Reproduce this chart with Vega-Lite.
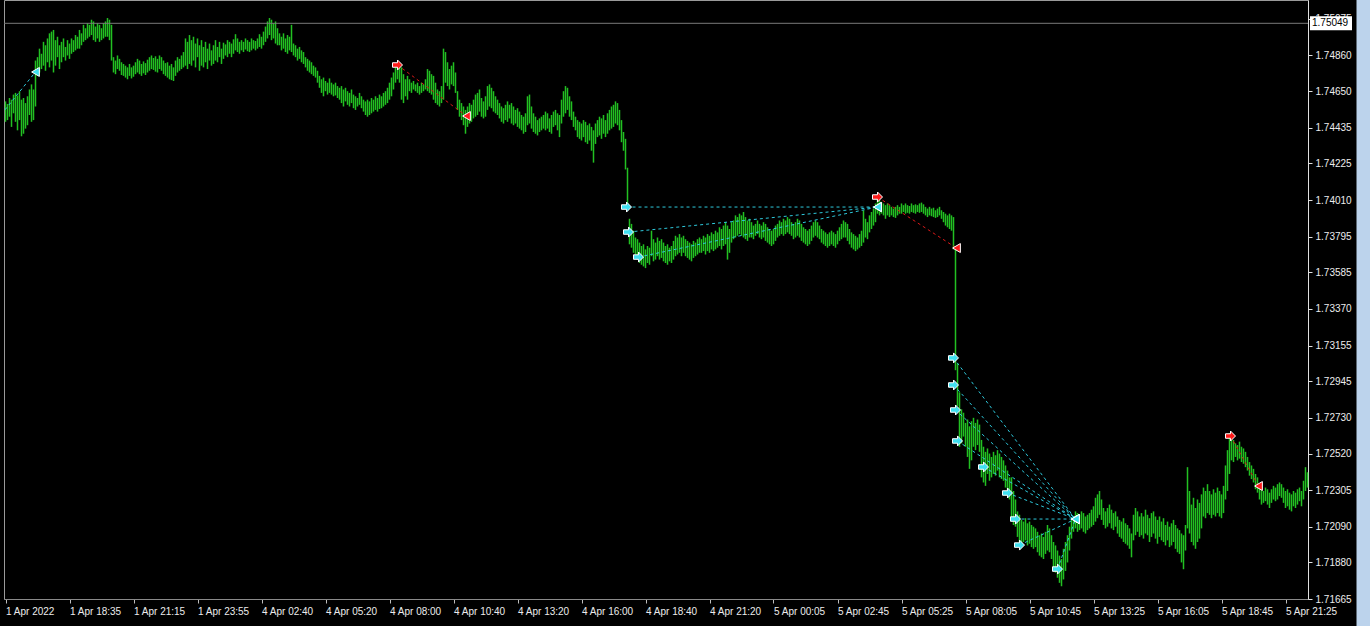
{
"$schema":"https://vega.github.io/schema/vega-lite/v6.json",
"width":1304,"height":599,
"autosize":{"type":"none"},
"padding":{"left":4,"top":0,"right":62,"bottom":27},
"background":"#000000",
"config":{"view":{"stroke":"#9a9a9a","strokeWidth":1},"font":"Liberation Sans","axis":{"labelOverlap":false,"labelFlush":false,"labelBound":false,"grid":false,"labelFont":"Liberation Sans","labelFontSize":10,"labelColor":"#ececec"}},
"title":{"text":"GBPUSD,M5  1.75049 1.75049 1.75046 1.75049","anchor":"start","orient":"top","offset":-5,"baseline":"bottom","color":"#9a9a9a","fontSize":10,"fontWeight":"normal","font":"Liberation Sans","dx":16},
"datasets":{
"bars":[
{"i":0,"h":1.7459,"l":1.7447},{"i":1,"h":1.74575,"l":1.7448},{"i":2,"h":1.7461,"l":1.745},{"i":3,"h":1.746,"l":1.7444},{"i":4,"h":1.7463,"l":1.7452},{"i":5,"h":1.7464,"l":1.7447},{"i":6,"h":1.74625,"l":1.7442},{"i":7,"h":1.7465,"l":1.7448},{"i":8,"h":1.746,"l":1.74385},{"i":9,"h":1.7461,"l":1.744},
{"i":10,"h":1.7458,"l":1.7443},{"i":11,"h":1.7462,"l":1.7445},{"i":12,"h":1.7466,"l":1.7451},{"i":13,"h":1.7469,"l":1.7447},{"i":14,"h":1.7466,"l":1.7448},{"i":15,"h":1.7483,"l":1.7456},{"i":16,"h":1.7485,"l":1.7474},{"i":17,"h":1.749,"l":1.7476},{"i":18,"h":1.7487,"l":1.7478},{"i":19,"h":1.7494,"l":1.748},
{"i":20,"h":1.7492,"l":1.7477},{"i":21,"h":1.7496,"l":1.7482},{"i":22,"h":1.7499,"l":1.7479},{"i":23,"h":1.75,"l":1.7483},{"i":24,"h":1.7501,"l":1.7476},{"i":25,"h":1.7495,"l":1.748},{"i":26,"h":1.7497,"l":1.7485},{"i":27,"h":1.7492,"l":1.7478},{"i":28,"h":1.7494,"l":1.7482},{"i":29,"h":1.7496,"l":1.7485},
{"i":30,"h":1.7491,"l":1.7483},{"i":31,"h":1.7495,"l":1.7486},{"i":32,"h":1.7493,"l":1.7484},{"i":33,"h":1.7496,"l":1.7487},{"i":34,"h":1.7495,"l":1.7488},{"i":35,"h":1.7498,"l":1.7489},{"i":36,"h":1.7497,"l":1.749},{"i":37,"h":1.7501,"l":1.749},{"i":38,"h":1.7499,"l":1.7492},{"i":39,"h":1.7504,"l":1.7494},
{"i":40,"h":1.7502,"l":1.7495},{"i":41,"h":1.7505,"l":1.7496},{"i":42,"h":1.7504,"l":1.7497},{"i":43,"h":1.7507,"l":1.7498},{"i":44,"h":1.7506,"l":1.7495},{"i":45,"h":1.7503,"l":1.7494},{"i":46,"h":1.7505,"l":1.7496},{"i":47,"h":1.7504,"l":1.7494},{"i":48,"h":1.7502,"l":1.7495},{"i":49,"h":1.7505,"l":1.7496},
{"i":50,"h":1.7506,"l":1.7497},{"i":51,"h":1.7508,"l":1.7497},{"i":52,"h":1.7507,"l":1.7495},{"i":53,"h":1.7504,"l":1.7483},{"i":54,"h":1.7485,"l":1.7476},{"i":55,"h":1.7483,"l":1.7475},{"i":56,"h":1.7486,"l":1.7478},{"i":57,"h":1.7484,"l":1.7477},{"i":58,"h":1.7482,"l":1.74745},{"i":59,"h":1.7481,"l":1.7474},
{"i":60,"h":1.748,"l":1.7473},{"i":61,"h":1.7479,"l":1.7472},{"i":62,"h":1.7481,"l":1.7474},{"i":63,"h":1.7479,"l":1.74725},{"i":64,"h":1.748,"l":1.74735},{"i":65,"h":1.7482,"l":1.7475},{"i":66,"h":1.7484,"l":1.7476},{"i":67,"h":1.7483,"l":1.7475},{"i":68,"h":1.7481,"l":1.7474},{"i":69,"h":1.74825,"l":1.74755},
{"i":70,"h":1.74815,"l":1.74745},{"i":71,"h":1.74835,"l":1.7476},{"i":72,"h":1.7485,"l":1.7477},{"i":73,"h":1.7486,"l":1.7478},{"i":74,"h":1.74845,"l":1.74775},{"i":75,"h":1.74855,"l":1.74765},{"i":76,"h":1.7484,"l":1.7476},{"i":77,"h":1.7486,"l":1.7478},{"i":78,"h":1.7485,"l":1.7477},{"i":79,"h":1.7483,"l":1.7475},
{"i":80,"h":1.74815,"l":1.7474},{"i":81,"h":1.7482,"l":1.7473},{"i":82,"h":1.748,"l":1.7472},{"i":83,"h":1.7481,"l":1.74715},{"i":84,"h":1.7479,"l":1.7471},{"i":85,"h":1.7483,"l":1.7474},{"i":86,"h":1.7485,"l":1.7476},{"i":87,"h":1.7484,"l":1.7477},{"i":88,"h":1.7486,"l":1.7478},{"i":89,"h":1.7488,"l":1.7479},
{"i":90,"h":1.7496,"l":1.748},{"i":91,"h":1.7494,"l":1.7478},{"i":92,"h":1.7498,"l":1.7481},{"i":93,"h":1.7495,"l":1.748},{"i":94,"h":1.7497,"l":1.7483},{"i":95,"h":1.7493,"l":1.7479},{"i":96,"h":1.7496,"l":1.7485},{"i":97,"h":1.7492,"l":1.7477},{"i":98,"h":1.7495,"l":1.748},{"i":99,"h":1.7491,"l":1.7479},
{"i":100,"h":1.7494,"l":1.7482},{"i":101,"h":1.749,"l":1.7478},{"i":102,"h":1.7493,"l":1.7483},{"i":103,"h":1.7489,"l":1.748},{"i":104,"h":1.7492,"l":1.7481},{"i":105,"h":1.7495,"l":1.7483},{"i":106,"h":1.7491,"l":1.7482},{"i":107,"h":1.7494,"l":1.7485},{"i":108,"h":1.749,"l":1.7481},{"i":109,"h":1.74935,"l":1.7484},
{"i":110,"h":1.74925,"l":1.7486},{"i":111,"h":1.7495,"l":1.7485},{"i":112,"h":1.7494,"l":1.7487},{"i":113,"h":1.7493,"l":1.7485},{"i":114,"h":1.74955,"l":1.7487},{"i":115,"h":1.74985,"l":1.7489},{"i":116,"h":1.7496,"l":1.7488},{"i":117,"h":1.7494,"l":1.7487},{"i":118,"h":1.7495,"l":1.7489},{"i":119,"h":1.7494,"l":1.7488},
{"i":120,"h":1.7496,"l":1.74895},{"i":121,"h":1.7495,"l":1.74885},{"i":122,"h":1.7494,"l":1.7488},{"i":123,"h":1.7496,"l":1.7489},{"i":124,"h":1.7495,"l":1.749},{"i":125,"h":1.74945,"l":1.7489},{"i":126,"h":1.7496,"l":1.749},{"i":127,"h":1.74985,"l":1.7491},{"i":128,"h":1.7497,"l":1.749},{"i":129,"h":1.75,"l":1.7492},
{"i":130,"h":1.7503,"l":1.7494},{"i":131,"h":1.7506,"l":1.7496},{"i":132,"h":1.7508,"l":1.7498},{"i":133,"h":1.7507,"l":1.7495},{"i":134,"h":1.7505,"l":1.7496},{"i":135,"h":1.7506,"l":1.7493},{"i":136,"h":1.7502,"l":1.7492},{"i":137,"h":1.7499,"l":1.7492},{"i":138,"h":1.7497,"l":1.7489},{"i":139,"h":1.7499,"l":1.749},
{"i":140,"h":1.7496,"l":1.7488},{"i":141,"h":1.7498,"l":1.7487},{"i":142,"h":1.7497,"l":1.7489},{"i":143,"h":1.7504,"l":1.7488},{"i":144,"h":1.7493,"l":1.7486},{"i":145,"h":1.7492,"l":1.7485},{"i":146,"h":1.749,"l":1.7483},{"i":147,"h":1.7491,"l":1.7484},{"i":148,"h":1.7489,"l":1.7482},{"i":149,"h":1.7488,"l":1.7481},
{"i":150,"h":1.7485,"l":1.7479},{"i":151,"h":1.7484,"l":1.7477},{"i":152,"h":1.7483,"l":1.7476},{"i":153,"h":1.7482,"l":1.7475},{"i":154,"h":1.748,"l":1.7474},{"i":155,"h":1.7479,"l":1.7473},{"i":156,"h":1.7477,"l":1.747},{"i":157,"h":1.7474,"l":1.7467},{"i":158,"h":1.7472,"l":1.7464},{"i":159,"h":1.7473,"l":1.7462},
{"i":160,"h":1.7471,"l":1.7465},{"i":161,"h":1.747,"l":1.7463},{"i":162,"h":1.74725,"l":1.7464},{"i":163,"h":1.747,"l":1.7463},{"i":164,"h":1.7469,"l":1.7462},{"i":165,"h":1.747,"l":1.74625},{"i":166,"h":1.7468,"l":1.7461},{"i":167,"h":1.7467,"l":1.746},{"i":168,"h":1.7468,"l":1.7458},{"i":169,"h":1.7466,"l":1.7456},
{"i":170,"h":1.7467,"l":1.7459},{"i":171,"h":1.7465,"l":1.7457},{"i":172,"h":1.7464,"l":1.7456},{"i":173,"h":1.7466,"l":1.7458},{"i":174,"h":1.7463,"l":1.7455},{"i":175,"h":1.7462,"l":1.7454},{"i":176,"h":1.7461,"l":1.7456},{"i":177,"h":1.7464,"l":1.7457},{"i":178,"h":1.7462,"l":1.7455},{"i":179,"h":1.746,"l":1.7453},
{"i":180,"h":1.7459,"l":1.7451},{"i":181,"h":1.746,"l":1.745},{"i":182,"h":1.7459,"l":1.7451},{"i":183,"h":1.7461,"l":1.7452},{"i":184,"h":1.746,"l":1.7453},{"i":185,"h":1.7462,"l":1.7454},{"i":186,"h":1.7461,"l":1.7453},{"i":187,"h":1.7463,"l":1.74545},{"i":188,"h":1.7462,"l":1.7455},{"i":189,"h":1.7464,"l":1.7456},
{"i":190,"h":1.7465,"l":1.7457},{"i":191,"h":1.7467,"l":1.7458},{"i":192,"h":1.747,"l":1.746},{"i":193,"h":1.7473,"l":1.7462},{"i":194,"h":1.7476,"l":1.7466},{"i":195,"h":1.7479,"l":1.747},{"i":196,"h":1.7481,"l":1.7472},{"i":197,"h":1.748,"l":1.747},{"i":198,"h":1.7479,"l":1.746},{"i":199,"h":1.7475,"l":1.7458},
{"i":200,"h":1.7472,"l":1.7462},{"i":201,"h":1.7474,"l":1.746},{"i":202,"h":1.7472,"l":1.7465},{"i":203,"h":1.747,"l":1.7464},{"i":204,"h":1.7471,"l":1.7466},{"i":205,"h":1.7469,"l":1.7465},{"i":206,"h":1.747,"l":1.7464},{"i":207,"h":1.7468,"l":1.7463},{"i":208,"h":1.747,"l":1.7464},{"i":209,"h":1.7469,"l":1.7465},
{"i":210,"h":1.7472,"l":1.7466},{"i":211,"h":1.7478,"l":1.7465},{"i":212,"h":1.7477,"l":1.7464},{"i":213,"h":1.7475,"l":1.7463},{"i":214,"h":1.7474,"l":1.746},{"i":215,"h":1.747,"l":1.7458},{"i":216,"h":1.7466,"l":1.7457},{"i":217,"h":1.7465,"l":1.7456},{"i":218,"h":1.7468,"l":1.7458},{"i":219,"h":1.749,"l":1.746},
{"i":220,"h":1.7488,"l":1.747},{"i":221,"h":1.7482,"l":1.7468},{"i":222,"h":1.7478,"l":1.7466},{"i":223,"h":1.748,"l":1.7469},{"i":224,"h":1.7482,"l":1.7468},{"i":225,"h":1.7476,"l":1.7464},{"i":226,"h":1.7465,"l":1.7454},{"i":227,"h":1.746,"l":1.745},{"i":228,"h":1.7458,"l":1.7448},{"i":229,"h":1.7456,"l":1.7445},
{"i":230,"h":1.7454,"l":1.744},{"i":231,"h":1.7456,"l":1.7444},{"i":232,"h":1.7458,"l":1.7446},{"i":233,"h":1.7457,"l":1.7447},{"i":234,"h":1.746,"l":1.7449},{"i":235,"h":1.7463,"l":1.745},{"i":236,"h":1.7464,"l":1.7451},{"i":237,"h":1.7466,"l":1.7453},{"i":238,"h":1.7461,"l":1.745},{"i":239,"h":1.7459,"l":1.7449},
{"i":240,"h":1.7462,"l":1.745},{"i":241,"h":1.7468,"l":1.7454},{"i":242,"h":1.7469,"l":1.7456},{"i":243,"h":1.7467,"l":1.7455},{"i":244,"h":1.7465,"l":1.7453},{"i":245,"h":1.7462,"l":1.7452},{"i":246,"h":1.746,"l":1.7451},{"i":247,"h":1.7458,"l":1.7449},{"i":248,"h":1.7456,"l":1.7447},{"i":249,"h":1.7455,"l":1.7446},
{"i":250,"h":1.7457,"l":1.7448},{"i":251,"h":1.7459,"l":1.7447},{"i":252,"h":1.7457,"l":1.7449},{"i":253,"h":1.7458,"l":1.7446},{"i":254,"h":1.7456,"l":1.7445},{"i":255,"h":1.7454,"l":1.7446},{"i":256,"h":1.7455,"l":1.7444},{"i":257,"h":1.7453,"l":1.7443},{"i":258,"h":1.7451,"l":1.7442},{"i":259,"h":1.745,"l":1.744},
{"i":260,"h":1.7452,"l":1.7441},{"i":261,"h":1.7462,"l":1.7445},{"i":262,"h":1.7463,"l":1.7446},{"i":263,"h":1.7456,"l":1.7443},{"i":264,"h":1.7452,"l":1.7441},{"i":265,"h":1.745,"l":1.744},{"i":266,"h":1.7448,"l":1.7439},{"i":267,"h":1.7449,"l":1.7441},{"i":268,"h":1.745,"l":1.7442},{"i":269,"h":1.7451,"l":1.7443},
{"i":270,"h":1.7453,"l":1.7442},{"i":271,"h":1.7452,"l":1.7443},{"i":272,"h":1.7449,"l":1.7441},{"i":273,"h":1.7451,"l":1.744},{"i":274,"h":1.7453,"l":1.7444},{"i":275,"h":1.7454,"l":1.7445},{"i":276,"h":1.7452,"l":1.7442},{"i":277,"h":1.7451,"l":1.7438},{"i":278,"h":1.746,"l":1.7446},{"i":279,"h":1.7465,"l":1.745},
{"i":280,"h":1.7468,"l":1.7452},{"i":281,"h":1.7467,"l":1.7454},{"i":282,"h":1.7462,"l":1.745},{"i":283,"h":1.7459,"l":1.7448},{"i":284,"h":1.7453,"l":1.7444},{"i":285,"h":1.745,"l":1.7442},{"i":286,"h":1.7448,"l":1.7438},{"i":287,"h":1.7447,"l":1.7437},{"i":288,"h":1.7446,"l":1.7436},{"i":289,"h":1.7448,"l":1.7438},
{"i":290,"h":1.7447,"l":1.7435},{"i":291,"h":1.7445,"l":1.7434},{"i":292,"h":1.7446,"l":1.7436},{"i":293,"h":1.7444,"l":1.743},{"i":294,"h":1.7442,"l":1.7423},{"i":295,"h":1.7446,"l":1.7434},{"i":296,"h":1.7448,"l":1.7438},{"i":297,"h":1.745,"l":1.7439},{"i":298,"h":1.7449,"l":1.7437},{"i":299,"h":1.7451,"l":1.744},
{"i":300,"h":1.7448,"l":1.7438},{"i":301,"h":1.7452,"l":1.744},{"i":302,"h":1.7454,"l":1.7442},{"i":303,"h":1.7456,"l":1.7443},{"i":304,"h":1.7457,"l":1.7444},{"i":305,"h":1.7459,"l":1.7446},{"i":306,"h":1.7458,"l":1.7445},{"i":307,"h":1.7454,"l":1.7442},{"i":308,"h":1.7448,"l":1.7435},{"i":309,"h":1.7441,"l":1.743},
{"i":310,"h":1.7437,"l":1.7419},{"i":311,"h":1.742,"l":1.7396},{"i":312,"h":1.739,"l":1.7375},{"i":313,"h":1.7387,"l":1.7373},{"i":314,"h":1.7383,"l":1.737},{"i":315,"h":1.7379,"l":1.7369},{"i":316,"h":1.7378,"l":1.7366},{"i":317,"h":1.7376,"l":1.7364},{"i":318,"h":1.7374,"l":1.7363},{"i":319,"h":1.7375,"l":1.7362},
{"i":320,"h":1.7372,"l":1.7361},{"i":321,"h":1.7374,"l":1.7364},{"i":322,"h":1.7373,"l":1.7363},{"i":323,"h":1.7383,"l":1.7368},{"i":324,"h":1.7378,"l":1.7365},{"i":325,"h":1.7376,"l":1.7366},{"i":326,"h":1.7379,"l":1.7368},{"i":327,"h":1.7377,"l":1.7366},{"i":328,"h":1.7378,"l":1.7367},{"i":329,"h":1.7376,"l":1.7365},
{"i":330,"h":1.7374,"l":1.7364},{"i":331,"h":1.7375,"l":1.7363},{"i":332,"h":1.7373,"l":1.7365},{"i":333,"h":1.7374,"l":1.7364},{"i":334,"h":1.7377,"l":1.7366},{"i":335,"h":1.738,"l":1.7368},{"i":336,"h":1.7379,"l":1.7369},{"i":337,"h":1.7381,"l":1.737},{"i":338,"h":1.7379,"l":1.7368},{"i":339,"h":1.738,"l":1.737},
{"i":340,"h":1.7378,"l":1.7368},{"i":341,"h":1.7377,"l":1.7367},{"i":342,"h":1.7376,"l":1.7366},{"i":343,"h":1.7375,"l":1.7365},{"i":344,"h":1.7377,"l":1.7367},{"i":345,"h":1.7376,"l":1.7368},{"i":346,"h":1.7378,"l":1.7369},{"i":347,"h":1.7379,"l":1.737},{"i":348,"h":1.7378,"l":1.737},{"i":349,"h":1.738,"l":1.7371},
{"i":350,"h":1.7379,"l":1.7369},{"i":351,"h":1.7381,"l":1.7371},{"i":352,"h":1.738,"l":1.737},{"i":353,"h":1.7382,"l":1.7372},{"i":354,"h":1.7381,"l":1.7371},{"i":355,"h":1.7383,"l":1.7372},{"i":356,"h":1.7382,"l":1.7373},{"i":357,"h":1.7385,"l":1.7374},{"i":358,"h":1.7384,"l":1.7372},{"i":359,"h":1.7386,"l":1.7374},
{"i":360,"h":1.7388,"l":1.7375},{"i":361,"h":1.7386,"l":1.7366},{"i":362,"h":1.7384,"l":1.737},{"i":363,"h":1.7388,"l":1.7376},{"i":364,"h":1.7389,"l":1.7378},{"i":365,"h":1.7392,"l":1.7379},{"i":366,"h":1.7391,"l":1.738},{"i":367,"h":1.7393,"l":1.7381},{"i":368,"h":1.7392,"l":1.738},{"i":369,"h":1.7394,"l":1.7379},
{"i":370,"h":1.7391,"l":1.7378},{"i":371,"h":1.7389,"l":1.7377},{"i":372,"h":1.739,"l":1.7379},{"i":373,"h":1.7388,"l":1.7379},{"i":374,"h":1.7386,"l":1.7378},{"i":375,"h":1.7387,"l":1.738},{"i":376,"h":1.7389,"l":1.7381},{"i":377,"h":1.7387,"l":1.7379},{"i":378,"h":1.7386,"l":1.7378},{"i":379,"h":1.7388,"l":1.7379},
{"i":380,"h":1.7387,"l":1.7377},{"i":381,"h":1.7385,"l":1.7376},{"i":382,"h":1.7384,"l":1.7375},{"i":383,"h":1.7383,"l":1.7374},{"i":384,"h":1.7384,"l":1.7375},{"i":385,"h":1.7386,"l":1.7377},{"i":386,"h":1.7387,"l":1.7379},{"i":387,"h":1.7389,"l":1.738},{"i":388,"h":1.7388,"l":1.7381},{"i":389,"h":1.739,"l":1.738},
{"i":390,"h":1.7389,"l":1.7381},{"i":391,"h":1.7391,"l":1.7382},{"i":392,"h":1.739,"l":1.7381},{"i":393,"h":1.7388,"l":1.738},{"i":394,"h":1.7387,"l":1.7378},{"i":395,"h":1.7388,"l":1.7379},{"i":396,"h":1.739,"l":1.738},{"i":397,"h":1.7389,"l":1.7379},{"i":398,"h":1.7387,"l":1.7377},{"i":399,"h":1.7385,"l":1.7376},
{"i":400,"h":1.7384,"l":1.7375},{"i":401,"h":1.7383,"l":1.7374},{"i":402,"h":1.7384,"l":1.7375},{"i":403,"h":1.7386,"l":1.7377},{"i":404,"h":1.7388,"l":1.7379},{"i":405,"h":1.7389,"l":1.738},{"i":406,"h":1.7388,"l":1.7379},{"i":407,"h":1.7386,"l":1.7378},{"i":408,"h":1.7384,"l":1.7376},{"i":409,"h":1.7383,"l":1.7375},
{"i":410,"h":1.7382,"l":1.7374},{"i":411,"h":1.7381,"l":1.7373},{"i":412,"h":1.7382,"l":1.7374},{"i":413,"h":1.7383,"l":1.7375},{"i":414,"h":1.7382,"l":1.7374},{"i":415,"h":1.7381,"l":1.7373},{"i":416,"h":1.7383,"l":1.7375},{"i":417,"h":1.7385,"l":1.7377},{"i":418,"h":1.7387,"l":1.7378},{"i":419,"h":1.7389,"l":1.7379},
{"i":420,"h":1.7388,"l":1.7379},{"i":421,"h":1.7387,"l":1.7377},{"i":422,"h":1.7384,"l":1.7375},{"i":423,"h":1.7382,"l":1.7373},{"i":424,"h":1.7381,"l":1.7372},{"i":425,"h":1.738,"l":1.7371},{"i":426,"h":1.7379,"l":1.7372},{"i":427,"h":1.7381,"l":1.7373},{"i":428,"h":1.7383,"l":1.7374},{"i":429,"h":1.7395,"l":1.7376},
{"i":430,"h":1.739,"l":1.7379},{"i":431,"h":1.7388,"l":1.7378},{"i":432,"h":1.7392,"l":1.7382},{"i":433,"h":1.7394,"l":1.7384},{"i":434,"h":1.7396,"l":1.7386},{"i":435,"h":1.7399,"l":1.7388},{"i":436,"h":1.7403,"l":1.7393},{"i":437,"h":1.7401,"l":1.7392},{"i":438,"h":1.74,"l":1.7393},{"i":439,"h":1.7399,"l":1.7392},
{"i":440,"h":1.7398,"l":1.739},{"i":441,"h":1.7399,"l":1.7392},{"i":442,"h":1.7398,"l":1.7391},{"i":443,"h":1.7397,"l":1.7392},{"i":444,"h":1.7396,"l":1.7391},{"i":445,"h":1.7397,"l":1.73905},{"i":446,"h":1.7398,"l":1.7392},{"i":447,"h":1.7397,"l":1.7393},{"i":448,"h":1.7399,"l":1.7393},{"i":449,"h":1.7398,"l":1.7394},
{"i":450,"h":1.7399,"l":1.7393},{"i":451,"h":1.7398,"l":1.73935},{"i":452,"h":1.73975,"l":1.7393},{"i":453,"h":1.7399,"l":1.7394},{"i":454,"h":1.7398,"l":1.73935},{"i":455,"h":1.73985,"l":1.7393},{"i":456,"h":1.7398,"l":1.7394},{"i":457,"h":1.7399,"l":1.73935},{"i":458,"h":1.73995,"l":1.7394},{"i":459,"h":1.73985,"l":1.7393},
{"i":460,"h":1.7397,"l":1.7392},{"i":461,"h":1.7396,"l":1.7391},{"i":462,"h":1.7397,"l":1.7392},{"i":463,"h":1.7396,"l":1.73915},{"i":464,"h":1.73965,"l":1.7391},{"i":465,"h":1.7395,"l":1.73905},{"i":466,"h":1.7396,"l":1.7391},{"i":467,"h":1.7397,"l":1.7392},{"i":468,"h":1.7395,"l":1.739},{"i":469,"h":1.7394,"l":1.7388},
{"i":470,"h":1.7393,"l":1.7386},{"i":471,"h":1.7392,"l":1.7385},{"i":472,"h":1.7393,"l":1.7384},{"i":473,"h":1.7392,"l":1.7383},{"i":474,"h":1.7391,"l":1.7372},{"i":475,"h":1.7374,"l":1.7301},{"i":476,"h":1.7305,"l":1.728},{"i":477,"h":1.7288,"l":1.7256},{"i":478,"h":1.7278,"l":1.7258},{"i":479,"h":1.7276,"l":1.7262},
{"i":480,"h":1.727,"l":1.7256},{"i":481,"h":1.7272,"l":1.725},{"i":482,"h":1.7268,"l":1.7243},{"i":483,"h":1.7271,"l":1.7248},{"i":484,"h":1.7273,"l":1.7256},{"i":485,"h":1.727,"l":1.7254},{"i":486,"h":1.7272,"l":1.7257},{"i":487,"h":1.7269,"l":1.7253},{"i":488,"h":1.726,"l":1.7238},{"i":489,"h":1.7256,"l":1.7235},
{"i":490,"h":1.7253,"l":1.7233},{"i":491,"h":1.7255,"l":1.724},{"i":492,"h":1.7252,"l":1.7236},{"i":493,"h":1.725,"l":1.7238},{"i":494,"h":1.7253,"l":1.724},{"i":495,"h":1.7251,"l":1.7239},{"i":496,"h":1.7254,"l":1.7242},{"i":497,"h":1.7252,"l":1.7238},{"i":498,"h":1.725,"l":1.7237},{"i":499,"h":1.7248,"l":1.7236},
{"i":500,"h":1.7245,"l":1.7232},{"i":501,"h":1.7242,"l":1.7228},{"i":502,"h":1.7238,"l":1.7225},{"i":503,"h":1.7238,"l":1.7214},{"i":504,"h":1.723,"l":1.721},{"i":505,"h":1.7225,"l":1.7209},{"i":506,"h":1.7218,"l":1.7203},{"i":507,"h":1.7216,"l":1.72},{"i":508,"h":1.7213,"l":1.7199},{"i":509,"h":1.7212,"l":1.72},
{"i":510,"h":1.7214,"l":1.7201},{"i":511,"h":1.7211,"l":1.7198},{"i":512,"h":1.7212,"l":1.7199},{"i":513,"h":1.721,"l":1.7197},{"i":514,"h":1.7209,"l":1.7196},{"i":515,"h":1.7208,"l":1.7197},{"i":516,"h":1.7206,"l":1.7194},{"i":517,"h":1.7204,"l":1.7192},{"i":518,"h":1.7205,"l":1.7191},{"i":519,"h":1.7203,"l":1.719},
{"i":520,"h":1.7206,"l":1.7193},{"i":521,"h":1.721,"l":1.7195},{"i":522,"h":1.7208,"l":1.7194},{"i":523,"h":1.7204,"l":1.719},{"i":524,"h":1.72,"l":1.7185},{"i":525,"h":1.7198,"l":1.7182},{"i":526,"h":1.7195,"l":1.7179},{"i":527,"h":1.7192,"l":1.7176},{"i":528,"h":1.719,"l":1.7174},{"i":529,"h":1.7196,"l":1.7178},
{"i":530,"h":1.72,"l":1.7183},{"i":531,"h":1.7204,"l":1.7188},{"i":532,"h":1.7209,"l":1.7195},{"i":533,"h":1.7213,"l":1.7202},{"i":534,"h":1.7215,"l":1.7206},{"i":535,"h":1.7218,"l":1.7208},{"i":536,"h":1.7217,"l":1.7206},{"i":537,"h":1.7216,"l":1.7207},{"i":538,"h":1.7218,"l":1.7208},{"i":539,"h":1.7217,"l":1.7206},
{"i":540,"h":1.7215,"l":1.7205},{"i":541,"h":1.7216,"l":1.7207},{"i":542,"h":1.7217,"l":1.7208},{"i":543,"h":1.7219,"l":1.7209},{"i":544,"h":1.7221,"l":1.721},{"i":545,"h":1.7226,"l":1.7212},{"i":546,"h":1.7228,"l":1.7214},{"i":547,"h":1.723,"l":1.7216},{"i":548,"h":1.7225,"l":1.7213},{"i":549,"h":1.722,"l":1.721},
{"i":550,"h":1.7218,"l":1.7208},{"i":551,"h":1.722,"l":1.7209},{"i":552,"h":1.7222,"l":1.7211},{"i":553,"h":1.7219,"l":1.7208},{"i":554,"h":1.7217,"l":1.7207},{"i":555,"h":1.7218,"l":1.7209},{"i":556,"h":1.7215,"l":1.7205},{"i":557,"h":1.7213,"l":1.7203},{"i":558,"h":1.7212,"l":1.7202},{"i":559,"h":1.7214,"l":1.72},
{"i":560,"h":1.7211,"l":1.7199},{"i":561,"h":1.721,"l":1.7198},{"i":562,"h":1.7208,"l":1.7196},{"i":563,"h":1.7205,"l":1.7191},{"i":564,"h":1.7216,"l":1.7201},{"i":565,"h":1.722,"l":1.7204},{"i":566,"h":1.7218,"l":1.7206},{"i":567,"h":1.7215,"l":1.7203},{"i":568,"h":1.7217,"l":1.7204},{"i":569,"h":1.7215,"l":1.7202},
{"i":570,"h":1.7219,"l":1.7205},{"i":571,"h":1.7216,"l":1.7204},{"i":572,"h":1.7214,"l":1.72},{"i":573,"h":1.7217,"l":1.7203},{"i":574,"h":1.7218,"l":1.7205},{"i":575,"h":1.7215,"l":1.7202},{"i":576,"h":1.7213,"l":1.7199},{"i":577,"h":1.7215,"l":1.7203},{"i":578,"h":1.7212,"l":1.7201},{"i":579,"h":1.7214,"l":1.72},
{"i":580,"h":1.721,"l":1.7198},{"i":581,"h":1.7212,"l":1.7201},{"i":582,"h":1.7209,"l":1.7197},{"i":583,"h":1.7211,"l":1.7198},{"i":584,"h":1.7213,"l":1.72},{"i":585,"h":1.721,"l":1.7196},{"i":586,"h":1.7208,"l":1.7194},{"i":587,"h":1.7207,"l":1.7193},{"i":588,"h":1.7205,"l":1.7188},{"i":589,"h":1.7204,"l":1.7184},
{"i":590,"h":1.721,"l":1.7195},{"i":591,"h":1.7244,"l":1.7208},{"i":592,"h":1.723,"l":1.7205},{"i":593,"h":1.7222,"l":1.72},{"i":594,"h":1.7226,"l":1.7198},{"i":595,"h":1.722,"l":1.7196},{"i":596,"h":1.7225,"l":1.72},{"i":597,"h":1.7223,"l":1.7202},{"i":598,"h":1.7228,"l":1.7208},{"i":599,"h":1.7232,"l":1.7215},
{"i":600,"h":1.723,"l":1.7214},{"i":601,"h":1.7234,"l":1.7217},{"i":602,"h":1.723,"l":1.7216},{"i":603,"h":1.7228,"l":1.7214},{"i":604,"h":1.7231,"l":1.7216},{"i":605,"h":1.7229,"l":1.7215},{"i":606,"h":1.7232,"l":1.7217},{"i":607,"h":1.723,"l":1.7215},{"i":608,"h":1.7228,"l":1.7214},{"i":609,"h":1.7233,"l":1.7217},
{"i":610,"h":1.7245,"l":1.7225},{"i":611,"h":1.7254,"l":1.723},{"i":612,"h":1.7264,"l":1.724},{"i":613,"h":1.7262,"l":1.7248},{"i":614,"h":1.726,"l":1.7247},{"i":615,"h":1.7258,"l":1.725},{"i":616,"h":1.7257,"l":1.7248},{"i":617,"h":1.7259,"l":1.7249},{"i":618,"h":1.7256,"l":1.7247},{"i":619,"h":1.7255,"l":1.7246},
{"i":620,"h":1.7253,"l":1.7244},{"i":621,"h":1.725,"l":1.7242},{"i":622,"h":1.7247,"l":1.7239},{"i":623,"h":1.7245,"l":1.7237},{"i":624,"h":1.7243,"l":1.7235},{"i":625,"h":1.724,"l":1.7231},{"i":626,"h":1.7238,"l":1.7229},{"i":627,"h":1.7234,"l":1.7225},{"i":628,"h":1.7231,"l":1.7222},{"i":629,"h":1.723,"l":1.7223},
{"i":630,"h":1.7232,"l":1.7224},{"i":631,"h":1.7231,"l":1.7222},{"i":632,"h":1.7229,"l":1.722},{"i":633,"h":1.7231,"l":1.7223},{"i":634,"h":1.7233,"l":1.7225},{"i":635,"h":1.7232,"l":1.7224},{"i":636,"h":1.7234,"l":1.7225},{"i":637,"h":1.7235,"l":1.7227},{"i":638,"h":1.7234,"l":1.7226},{"i":639,"h":1.7232,"l":1.7223},
{"i":640,"h":1.723,"l":1.722},{"i":641,"h":1.7231,"l":1.7221},{"i":642,"h":1.7229,"l":1.7219},{"i":643,"h":1.7228,"l":1.7218},{"i":644,"h":1.723,"l":1.7221},{"i":645,"h":1.7229,"l":1.722},{"i":646,"h":1.7231,"l":1.7222},{"i":647,"h":1.7232,"l":1.7224},{"i":648,"h":1.723,"l":1.7221},{"i":649,"h":1.7236,"l":1.7225},
{"i":650,"h":1.7244,"l":1.723},{"i":651,"h":1.7241,"l":1.7232}
],
"trades":[
{"t1":-4,"p1":1.74486,"t2":15,"p2":1.74763,"side":"buy"},
{"t1":196,"p1":1.74804,"t2":230.5,"p2":1.74504,"side":"sell"},
{"t1":310.5,"p1":1.73969,"t2":436,"p2":1.73969,"side":"buy"},
{"t1":311.5,"p1":1.73822,"t2":436,"p2":1.73969,"side":"buy"},
{"t1":316.5,"p1":1.73675,"t2":436,"p2":1.73969,"side":"buy"},
{"t1":436,"p1":1.74028,"t2":475.5,"p2":1.73728,"side":"sell"},
{"t1":474,"p1":1.73082,"t2":535,"p2":1.72135,"side":"buy"},
{"t1":474,"p1":1.72923,"t2":535,"p2":1.72135,"side":"buy"},
{"t1":475,"p1":1.72776,"t2":535,"p2":1.72135,"side":"buy"},
{"t1":476,"p1":1.72594,"t2":535,"p2":1.72135,"side":"buy"},
{"t1":489,"p1":1.72441,"t2":535,"p2":1.72135,"side":"buy"},
{"t1":501,"p1":1.72288,"t2":535,"p2":1.72135,"side":"buy"},
{"t1":505,"p1":1.72135,"t2":535,"p2":1.72135,"side":"buy"},
{"t1":507,"p1":1.71982,"t2":535,"p2":1.72135,"side":"buy"},
{"t1":526,"p1":1.71841,"t2":535,"p2":1.72135,"side":"buy"},
{"t1":612.5,"p1":1.72623,"t2":626.5,"p2":1.72329,"side":"sell"}
],
"last":[{"price":1.75049,"label":"1.75049"}]
},
"layer":[
{"data":{"name":"bars"},"mark":{"type":"bar","fill":"#22c022","width":1.5,"opacity":1},
 "encoding":{
  "x":{"field":"i","type":"quantitative","title":null,"scale":{"domain":[-0.75,651.25],"nice":false,"zero":false,"padding":0},
   "axis":{"orient":"bottom","values":[0,32,64,96,128,160,192,224,256,288,320,352,384,416,448,480,512,544,576,608,640],"tickCount":40,
    "labelExpr":"['1 Apr 2022','1 Apr 18:35','1 Apr 21:15','1 Apr 23:55','4 Apr 02:40','4 Apr 05:20','4 Apr 08:00','4 Apr 10:40','4 Apr 13:20','4 Apr 16:00','4 Apr 18:40','4 Apr 21:20','5 Apr 00:05','5 Apr 02:45','5 Apr 05:25','5 Apr 08:05','5 Apr 10:45','5 Apr 13:25','5 Apr 16:05','5 Apr 18:45','5 Apr 21:25'][round(datum.value/32)]",
    "labelAlign":"left","labelBaseline":"top","labelPadding":3,"labelFlush":false,"labelOverlap":false,"labelBound":false,
    "labelColor":"#ececec","labelFont":"Liberation Sans","labelFontSize":10,
    "tickColor":"#bdbdbd","tickSize":4,"domainColor":"#8a8a8a","grid":false}},
  "y":{"field":"l","type":"quantitative","title":null,"scale":{"domain":[1.71665,1.75186],"nice":false,"zero":false},
   "axis":{"orient":"right","values":[1.71665,1.7188,1.7209,1.72305,1.7252,1.7273,1.72945,1.73155,1.7337,1.73585,1.73795,1.7401,1.74225,1.74435,1.7465,1.7486,1.75075],"tickCount":30,
    "format":".5f","labelAlign":"left","labelBaseline":"middle","labelPadding":3,"labelFlush":false,"labelOverlap":false,"labelBound":false,
    "labelColor":"#ececec","labelFont":"Liberation Sans","labelFontSize":10,
    "tickColor":"#e0e0e0","tickSize":4,"domainColor":"#e0e0e0","grid":false}},
  "y2":{"field":"h"}
 }},
{"data":{"name":"last"},"mark":{"type":"rule","color":"#7a7a7a","strokeWidth":1},
 "encoding":{"y":{"field":"price","type":"quantitative","title":null}}},
{"data":{"name":"trades"},"mark":{"type":"rule","strokeDash":[3,3],"strokeWidth":1,"clip":true},
 "encoding":{
  "x":{"field":"t1","type":"quantitative","title":null},"x2":{"field":"t2"},
  "y":{"field":"p1","type":"quantitative","title":null},"y2":{"field":"p2"},
  "color":{"field":"side","type":"nominal","scale":{"domain":["buy","sell"],"range":["#2ec9dc","#d81818"]},"legend":null}}},
{"data":{"name":"trades"},"mark":{"type":"point","filled":true,"opacity":1,"stroke":"#ffffff","strokeWidth":1,"size":100,"clip":true,"shape":"M-1,-0.45L0,-0.45L0,-1L1,0L0,1L0,0.45L-1,0.45Z"},
 "encoding":{
  "x":{"field":"t1","type":"quantitative","title":null},
  "y":{"field":"p1","type":"quantitative","title":null},
  "fill":{"field":"side","type":"nominal","scale":{"domain":["buy","sell"],"range":["#3fe0f0","#ff1a1a"]},"legend":null}}},
{"data":{"name":"trades"},"mark":{"type":"point","filled":true,"opacity":1,"stroke":"#ffffff","strokeWidth":1,"size":80,"clip":true,"shape":"triangle-left"},
 "encoding":{
  "x":{"field":"t2","type":"quantitative","title":null},
  "y":{"field":"p2","type":"quantitative","title":null},
  "fill":{"field":"side","type":"nominal","legend":null}}},
{"data":{"name":"last"},"mark":{"type":"rect","color":"#ffffff"},
 "encoding":{"x":{"datum":652.25},"x2":{"datum":673.25},"y":{"datum":1.7509},"y2":{"datum":1.75008}}},
{"data":{"name":"last"},"mark":{"type":"text","color":"#000000","align":"left","baseline":"middle","font":"Liberation Sans","fontSize":10},
 "encoding":{"x":{"datum":653.25},"y":{"field":"price","type":"quantitative","title":null},"text":{"field":"label"}}},
{"data":{"name":"last"},"mark":{"type":"rect","color":"#bcd3ec"},
 "encoding":{"x":{"datum":675.5},"x2":{"datum":684},"y":{"datum":1.754},"y2":{"datum":1.714}}}
]
}
